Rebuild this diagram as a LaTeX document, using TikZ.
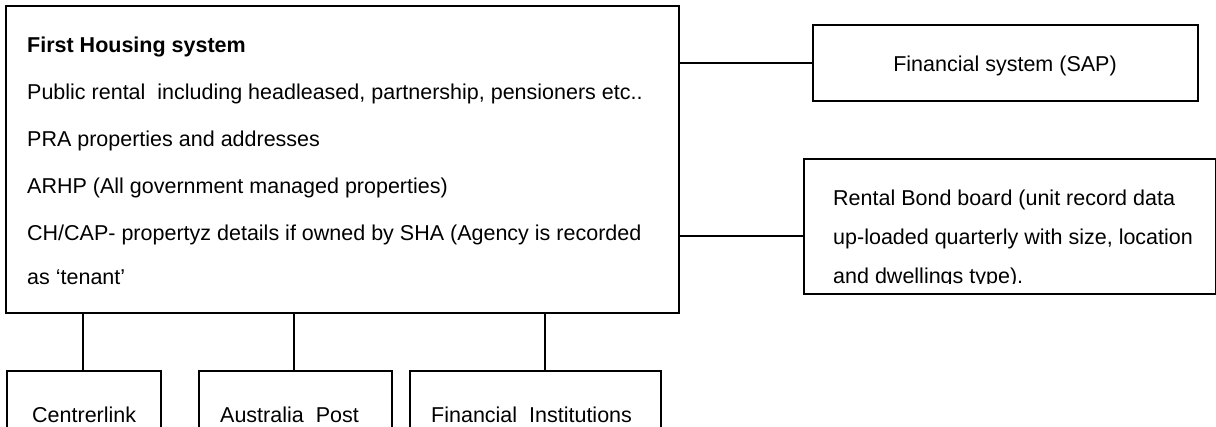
\documentclass[tikz,border=0pt]{standalone}
\usepackage{fontspec}
\setmainfont{Liberation Sans}
\begin{document}
\begin{tikzpicture}[x=1pt,y=-1pt,
  box/.style={draw, line width=1.8pt, rectangle, inner sep=0pt, anchor=north west},
  wire/.style={line width=1.6pt},
  txt/.style={anchor=base west, inner sep=0pt, font=\fontsize{21.5}{26}\selectfont},
]
\useasboundingbox (0,0) rectangle (1216,427);
\clip (0,0) rectangle (1216,427);

% boxes
\node[box, minimum width=673pt, minimum height=307pt] (main) at (5,5) {};
\node[box, minimum width=385pt, minimum height=76pt] (fin) at (812,24) {};
\node[box, minimum width=412pt, minimum height=135pt] (rb) at (803,158) {};
\node[box, minimum width=154pt, minimum height=80pt] (cl) at (6,370) {};
\node[box, minimum width=193pt, minimum height=80pt] (ap) at (198,370) {};
\node[box, minimum width=251pt, minimum height=80pt] (fi) at (409,370) {};

% connectors
\draw[wire] (fin.west) -- (fin.west -| main.east);
\draw[wire] (rb.west |- 0,236) -- (main.east |- 0,236);
\draw[wire] (main.south -| 83,0) -- (cl.north -| 83,0);
\draw[wire] (main.south -| 294,0) -- (ap.north -| 294,0);
\draw[wire] (main.south -| 545,0) -- (fi.north -| 545,0);

% main system contents
\node[txt, font=\fontsize{21.5}{26}\selectfont\bfseries] (t0) at (27,53) {First Housing system};
\node[txt] (t1) at (27,100) {Public rental\ \ including headleased, partnership, pensioners etc..};
\node[txt] (t2) at (27,147) {PRA properties and addresses};
\node[txt] (t3) at (27,194) {ARHP (All government managed properties)};
\node[txt] (t4) at (27,241) {CH/CAP- propertyz details if owned by SHA (Agency is recorded};
\node[txt] (t5) at (27,285) {as `tenant'};

% external systems
\node[txt, anchor=base] (tf) at (1005,72) {Financial system (SAP)};
\begin{scope}
  \clip (803,158) rectangle (1215,284);
  \node[txt] (r1) at (833,206) {Rental Bond board (unit record data};
  \node[txt] (r2) at (833,245) {up-loaded quarterly with size, location};
  \node[txt] (r3) at (833,284) {and dwellings type).};
\end{scope}
\node[txt] (tc) at (32,423) {Centrerlink};
\node[txt] (ta) at (220,423) {Australia\ \ Post};
\node[txt] (ti) at (431,423) {Financial\ \ Institutions};
\end{tikzpicture}
\end{document}
